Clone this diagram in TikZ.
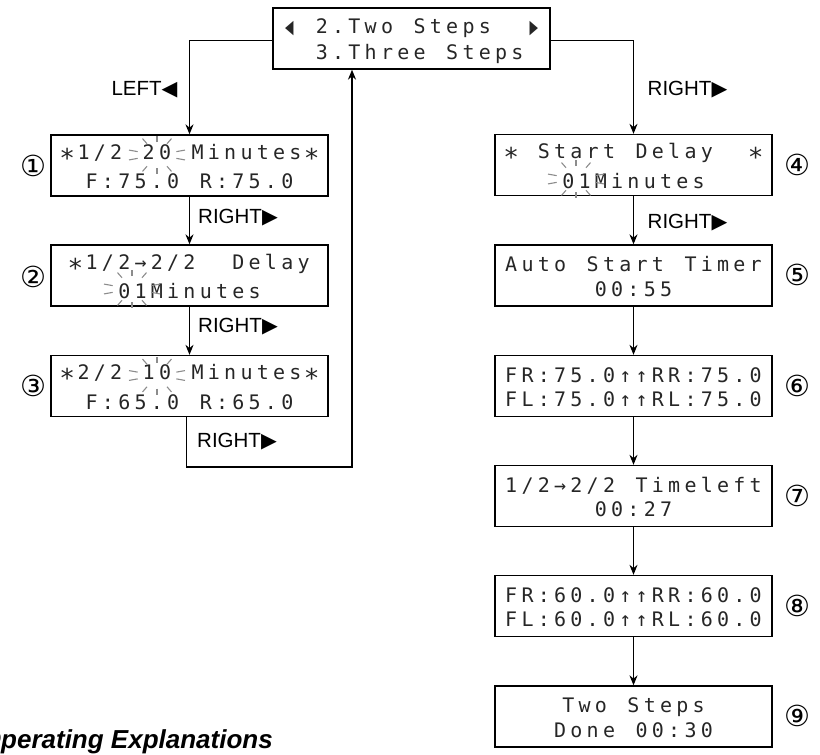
\documentclass[tikz,border=0pt]{standalone}
\usepackage{fontspec}
\usepackage{graphicx}
\setmainfont{Liberation Sans}
\newfontfamily\lcdfont{DejaVu Sans Mono}
\newfontfamily\djv{DejaVu Sans}
\usetikzlibrary{arrows.meta,calc}

\newlength\lcdpitch \setlength\lcdpitch{16.3pt}
\def\lcdstop{\lcdstop}
\newcommand\lcdast{\raisebox{-7.8pt}{\scalebox{1.3}{*}}}
\newcommand\lcdL{{\djv\scalebox{0.55}[0.95]{◀}}}
\newcommand\lcdR{{\djv\scalebox{0.55}[0.95]{▶}}}
\newcommand\lcdrow[1]{\rule[-3.5pt]{0pt}{24pt}\lcdloop#1\lcdstop}
\def\lcdloop#1{\ifx#1\lcdstop\else\makebox[\lcdpitch]{\ifx#1_\else#1\fi}\expandafter\lcdloop\fi}

\begin{document}
\begin{tikzpicture}[x=1pt,y=-1pt,
  lcd/.style={draw, line width=1.3pt, minimum width=277pt, minimum height=61pt, inner sep=0pt, align=center, font=\lcdfont\fontsize{20}{24.5}\selectfont, text=black!85},
  arr/.style={line width=1.3pt, -{Stealth[length=10pt,width=8pt]}},
  lbl/.style={font=\fontsize{20.5}{21}\selectfont, inner sep=0pt},
  num/.style={font=\djv\fontsize{29}{29}\selectfont, inner sep=0pt},
  ray/.style={black!45, line width=1.1pt}]
\clip (0,0) rectangle (820,755);
\path[use as bounding box] (0,0) rectangle (820,755);

\node[lcd] (top) at (411.5,38.5) {\lcdrow{\lcdL_2.Two_Steps__\lcdR}\\\lcdrow{__3.Three_Steps_}};
\node[lcd] (b1) at (189.5,165.5) {\lcdrow{\lcdast1/2_20_Minutes\lcdast}\\\lcdrow{F:75.0_R:75.0}};
\node[lcd] (b2) at (189.5,275.5) {\lcdrow{\lcdast1/2→2/2__Delay}\\\lcdrow{01Minutes}};
\node[lcd] (b3) at (189.5,386) {\lcdrow{\lcdast2/2_10_Minutes\lcdast}\\\lcdrow{F:65.0_R:65.0}};
\node[lcd] (b4) at (633.5,165) {\lcdrow{\lcdast_Start_Delay__\lcdast}\\\lcdrow{01Minutes}};
\node[lcd] (b5) at (633.5,275.5) {\lcdrow{Auto_Start_Timer}\\\lcdrow{00:55}};
\node[lcd] (b6) at (633.5,386) {\lcdrow{FR:75.0↑↑RR:75.0}\\\lcdrow{FL:75.0↑↑RL:75.0}};
\node[lcd] (b7) at (633.5,496) {\lcdrow{1/2→2/2_Timeleft}\\\lcdrow{00:27}};
\node[lcd] (b8) at (633.5,606) {\lcdrow{FR:60.0↑↑RR:60.0}\\\lcdrow{FL:60.0↑↑RL:60.0}};
\node[lcd] (b9) at (633.5,716.5) {\lcdrow{Two_Steps}\\\lcdrow{Done_00:30}};

% blinking rays
\coordinate (k1) at (157,155);
\coordinate (k2) at (132,289);
\coordinate (k3) at (157,375.5);
\coordinate (k4) at (576,179);
\foreach \k in {k1,k2,k3,k4}{
  \foreach \a in {15,-15,165,195,60,90,120,240,270,300}
    \draw[ray] ($(\k)+(\a:20 and 13)$) -- ($(\k)+(\a:29 and 19)$);
}

% connectors
\draw[arr] ([yshift=-2pt]top.west) -| (b1.north);
\draw[arr] ([yshift=-2pt]top.east) -| (b4.north);
\draw[arr] (b1.south) -- (b2.north);
\draw[arr] (b2.south) -- (b3.north);
\coordinate (lp) at (352,467);
\draw[arr] ([xshift=-3pt]b3.south) |- (lp) -- (lp |- top.south);
\draw[arr] (b4.south) -- (b5.north);
\draw[arr] (b5.south) -- (b6.north);
\draw[arr] (b6.south) -- (b7.north);
\draw[arr] (b7.south) -- (b8.north);
\draw[arr] (b8.south) -- (b9.north);

% key labels
\node[lbl] (l0) at (144.5,90) {LEFT{\djv ◀}};
\node[lbl] (r1) at (238,218) {RIGHT{\djv ▶}};
\node[lbl] (r2) at (238,327) {RIGHT{\djv ▶}};
\node[lbl] (r3) at (237,442) {RIGHT{\djv ▶}};
\node[lbl] (r4) at (687.5,90) {RIGHT{\djv ▶}};
\node[lbl] (r5) at (687.5,223) {RIGHT{\djv ▶}};

% step numbers
\node[num] (n1) at (33,166) {①};
\node[num] (n2) at (33,277) {②};
\node[num] (n3) at (33,386) {③};
\node[num] (n4) at (797,165) {④};
\node[num] (n5) at (797,275) {⑤};
\node[num] (n6) at (797,386) {⑥};
\node[num] (n7) at (797,496) {⑦};
\node[num] (n8) at (797,606) {⑧};
\node[num] (n9) at (797,716) {⑨};

\node[anchor=base east, font=\bfseries\itshape\fontsize{26}{26}\selectfont, inner sep=0pt] (ttl) at (273,748) {Operating Explanations};
\end{tikzpicture}
\end{document}
